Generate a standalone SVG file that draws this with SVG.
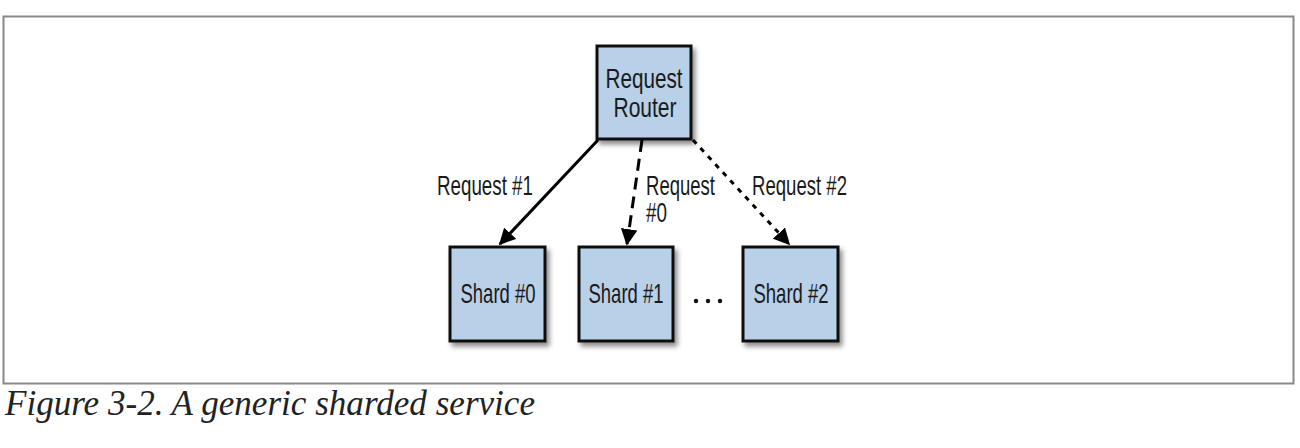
<svg xmlns="http://www.w3.org/2000/svg" width="1300" height="448" viewBox="0 0 1300 448">
<style>
.box{fill:#b8d0e8;stroke:#111;stroke-width:3;filter:url(#sh)}
.lbl{font-family:"Liberation Sans",Arial,sans-serif;font-size:28px;fill:#1a1a1a}
.edge{stroke:#000;stroke-width:3;fill:none}
.cap{font-family:"Liberation Serif","Times New Roman",serif;font-style:italic;font-size:36px;fill:#222}
</style>
<defs>
<filter id="sh" x="-20%" y="-20%" width="150%" height="150%">
<feDropShadow dx="3" dy="4" stdDeviation="2.5" flood-color="#000" flood-opacity="0.45"/>
</filter>
<marker id="ah" viewBox="0 0 10 10" refX="9" refY="5" markerWidth="5.5" markerHeight="5.5" orient="auto" markerUnits="strokeWidth">
<path d="M0,0 L10,5 L0,10 z" fill="#000"/>
</marker>
</defs>
<rect x="3.5" y="16.5" width="1290" height="367" fill="#fff" stroke="#888" stroke-width="2"/>
<g id="router">
<rect class="box" x="597" y="46" width="94" height="93"/>
<text class="lbl" x="644" y="88" text-anchor="middle" textLength="77" lengthAdjust="spacingAndGlyphs">Request</text>
<text class="lbl" x="645" y="117" text-anchor="middle" textLength="63" lengthAdjust="spacingAndGlyphs">Router</text>
</g>
<g id="shard0">
<rect class="box" x="450" y="247" width="95" height="94"/>
<text class="lbl" x="498" y="303" text-anchor="middle" textLength="75" lengthAdjust="spacingAndGlyphs">Shard #0</text>
</g>
<g id="shard1">
<rect class="box" x="579" y="247" width="94" height="94"/>
<text class="lbl" x="626" y="303" text-anchor="middle" textLength="75" lengthAdjust="spacingAndGlyphs">Shard #1</text>
</g>
<g id="shard2">
<rect class="box" x="743" y="247" width="95" height="94"/>
<text class="lbl" x="791" y="303" text-anchor="middle" textLength="75" lengthAdjust="spacingAndGlyphs">Shard #2</text>
</g>
<g id="ellipsis">
<circle cx="696" cy="301" r="2.2" fill="#111"/>
<circle cx="708" cy="301" r="2.2" fill="#111"/>
<circle cx="720" cy="301" r="2.2" fill="#111"/>
</g>
<g id="connectors">
<line class="edge" x1="598" y1="140" x2="500" y2="244" marker-end="url(#ah)"/>
<line class="edge" x1="642" y1="140" x2="627" y2="244" stroke-dasharray="12,7" marker-end="url(#ah)"/>
<line class="edge" x1="693" y1="140" x2="789" y2="244" stroke-dasharray="5,6" marker-end="url(#ah)"/>
<text class="lbl" x="437" y="195" textLength="96" lengthAdjust="spacingAndGlyphs">Request #1</text>
<text class="lbl" x="646" y="195" textLength="69" lengthAdjust="spacingAndGlyphs">Request</text>
<text class="lbl" x="646" y="222" textLength="21" lengthAdjust="spacingAndGlyphs">#0</text>
<text class="lbl" x="752" y="195" textLength="95" lengthAdjust="spacingAndGlyphs">Request #2</text>
</g>
<text class="cap" x="5" y="415" textLength="530" lengthAdjust="spacingAndGlyphs">Figure 3-2. A generic sharded service</text>
</svg>
